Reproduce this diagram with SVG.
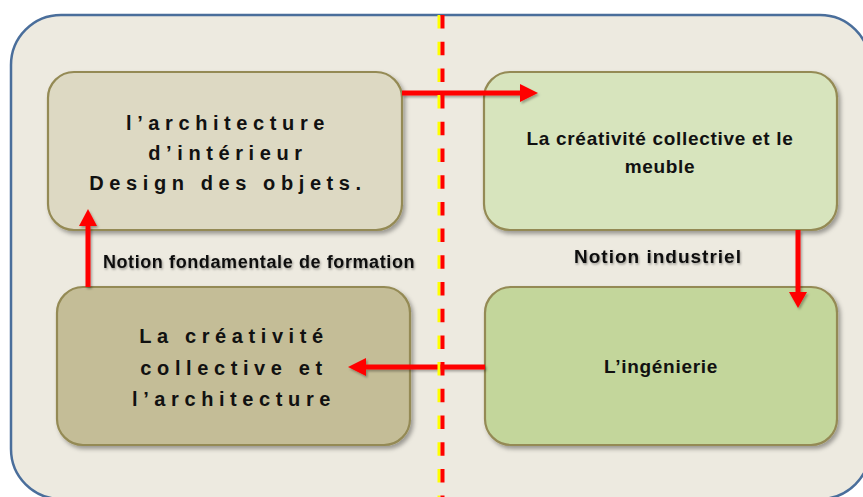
<svg xmlns="http://www.w3.org/2000/svg" width="863" height="497" viewBox="0 0 863 497">
<defs>
<filter id="sh" x="-10%" y="-10%" width="130%" height="130%">
<feDropShadow dx="2.5" dy="3" stdDeviation="2.2" flood-color="#000" flood-opacity="0.35"/>
</filter>
<filter id="ash" x="-20%" y="-20%" width="150%" height="150%">
<feDropShadow dx="1.5" dy="2" stdDeviation="1.2" flood-color="#000" flood-opacity="0.3"/>
</filter>
<filter id="tsh" x="-5%" y="-20%" width="110%" height="150%">
<feDropShadow dx="1" dy="1.5" stdDeviation="1" flood-color="#000" flood-opacity="0.35"/>
</filter>
</defs>
<style>
.node{stroke:#948A54;stroke-width:2.2;filter:url(#sh)}
.sp{font-family:"Liberation Sans",Arial,sans-serif;font-weight:bold;font-size:20px;letter-spacing:5.6px;fill:#111;text-anchor:middle}
.tx{font-family:"Liberation Sans",Arial,sans-serif;font-weight:bold;font-size:19px;letter-spacing:0.7px;fill:#111;text-anchor:middle}
.lb{font-family:"Liberation Sans",Arial,sans-serif;font-weight:bold;font-size:18px;fill:#111;text-anchor:middle;filter:url(#tsh)}
.ln{stroke:#FF0000;stroke-width:5;fill:none}
.hd{fill:#FF0000}
</style>
<rect x="11" y="15" width="859" height="484" rx="50" ry="50" fill="#EDEAE0" stroke="#4A6E9B" stroke-width="2.5"/>
<g id="n1">
<rect class="node" x="48" y="72" width="354" height="158" rx="26" fill="#DDD9C3"/>
<text class="sp" x="228" y="130">l’architecture</text>
<text class="sp" x="228" y="160">d’intérieur</text>
<text class="sp" x="228" y="190">Design des objets.</text>
</g>
<g id="n2">
<rect class="node" x="484" y="72" width="353" height="158" rx="26" fill="#D7E4BD"/>
<text class="tx" x="660" y="145">La créativité collective et le</text>
<text class="tx" x="660" y="173">meuble</text>
</g>
<g id="n3">
<rect class="node" x="57" y="287" width="353" height="158" rx="26" fill="#C4BD97"/>
<text class="sp" x="234" y="343">La créativité</text>
<text class="sp" x="234" y="375">collective et</text>
<text class="sp" x="234" y="406">l’architecture</text>
</g>
<g id="n4">
<rect class="node" x="485" y="287" width="352" height="158" rx="26" fill="#C3D69B"/>
<text class="tx" x="661" y="373">L’ingénierie</text>
</g>
<g id="labels">
<text class="lb" x="259" y="268" style="letter-spacing:0.6px">Notion fondamentale de formation</text>
<text class="lb" x="658" y="263" style="font-size:19px;letter-spacing:1px">Notion industriel</text>
</g>
<g id="connectors" filter="url(#ash)">
<line class="ln" x1="402" y1="93" x2="522" y2="93"/>
<polygon class="hd" points="520,84 538,93 520,102"/>
<line class="ln" x1="798" y1="230" x2="798" y2="294"/>
<polygon class="hd" points="789,292 807,292 798,308"/>
<line class="ln" x1="485" y1="367" x2="362" y2="367"/>
<polygon class="hd" points="366,358 348,367 366,376"/>
<line class="ln" x1="88" y1="287" x2="88" y2="224"/>
<polygon class="hd" points="79,226 97,226 88,209"/>
</g>
<g id="divider">
<line x1="439" y1="15" x2="439" y2="500" stroke="#FFFF00" stroke-width="3" stroke-dasharray="13.5 13.2"/>
<line x1="442.5" y1="15" x2="442.5" y2="500" stroke="#FF0000" stroke-width="4" stroke-dasharray="13.5 13.2"/>
</g>
</svg>
